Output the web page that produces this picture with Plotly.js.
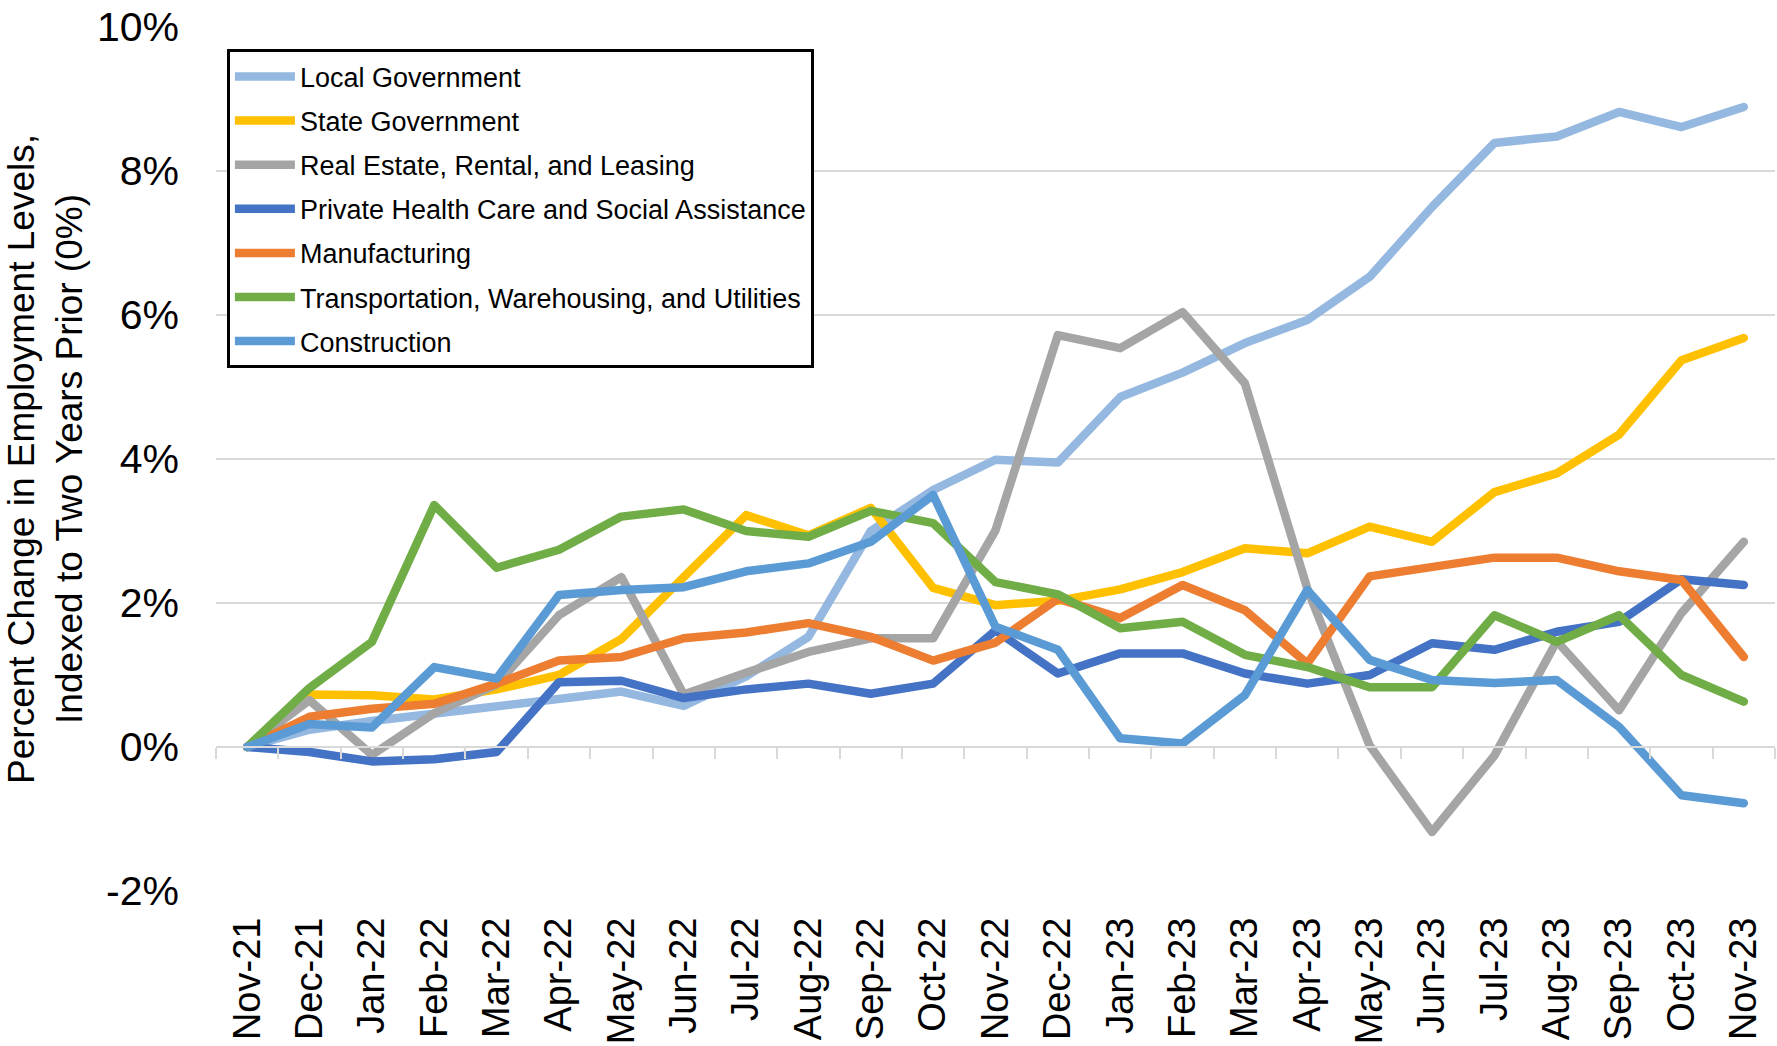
<!DOCTYPE html>
<html>
<head>
<meta charset="utf-8">
<script src="https://cdn.plot.ly/plotly-3.0.1.min.js"></script>
<style>
  html, body { margin: 0; padding: 0; background: #fff; }
  #chart { width: 1777px; height: 1046px; }
  .scatterlayer path.js-line { stroke-linejoin: round; stroke-linecap: round; }
</style>
</head>
<body>
<div id="chart"></div>
<script>
const months = ['Nov-21','Dec-21','Jan-22','Feb-22','Mar-22','Apr-22','May-22','Jun-22','Jul-22','Aug-22','Sep-22','Oct-22','Nov-22','Dec-22','Jan-23','Feb-23','Mar-23','Apr-23','May-23','Jun-23','Jul-23','Aug-23','Sep-23','Oct-23','Nov-23'];

const localGov      = [0, 0.24, 0.36, 0.46, 0.56, 0.66, 0.77, 0.57, 0.98, 1.53, 3.00, 3.57, 3.99, 3.95, 4.86, 5.20, 5.61, 5.93, 6.53, 7.50, 8.39, 8.48, 8.82, 8.61, 8.89];
const stateGov      = [0, 0.73, 0.72, 0.66, 0.80, 1.00, 1.50, 2.36, 3.22, 2.94, 3.32, 2.21, 1.97, 2.03, 2.19, 2.43, 2.76, 2.69, 3.06, 2.85, 3.54, 3.80, 4.34, 5.37, 5.68];
const realEstate    = [0, 0.65, -0.11, 0.47, 0.87, 1.83, 2.36, 0.73, 1.03, 1.32, 1.51, 1.51, 3.01, 5.72, 5.54, 6.04, 5.05, 2.20, 0.02, -1.18, -0.12, 1.47, 0.51, 1.86, 2.85];
const healthCare    = [0, -0.07, -0.20, -0.17, -0.07, 0.90, 0.92, 0.68, 0.80, 0.88, 0.74, 0.88, 1.62, 1.02, 1.30, 1.30, 1.02, 0.88, 1.00, 1.44, 1.35, 1.60, 1.74, 2.33, 2.25];
const manufacturing = [0, 0.42, 0.53, 0.60, 0.88, 1.20, 1.25, 1.51, 1.59, 1.72, 1.53, 1.20, 1.45, 2.06, 1.79, 2.25, 1.90, 1.16, 2.37, 2.50, 2.63, 2.63, 2.44, 2.32, 1.25];
const transport     = [0, 0.82, 1.46, 3.36, 2.49, 2.74, 3.20, 3.30, 3.00, 2.92, 3.28, 3.11, 2.29, 2.12, 1.65, 1.74, 1.28, 1.11, 0.83, 0.83, 1.83, 1.46, 1.83, 1.00, 0.63];
const construction  = [0, 0.32, 0.27, 1.11, 0.95, 2.11, 2.18, 2.22, 2.44, 2.55, 2.85, 3.50, 1.67, 1.35, 0.12, 0.05, 0.72, 2.18, 1.21, 0.93, 0.89, 0.93, 0.28, -0.67, -0.78];

const seriesNames = ['Local Government', 'State Government', 'Real Estate, Rental, and Leasing',
  'Private Health Care and Social Assistance', 'Manufacturing',
  'Transportation, Warehousing, and Utilities', 'Construction'];
const seriesValues = [localGov, stateGov, realEstate, healthCare, manufacturing, transport, construction];
const seriesColors = ['#95B8E0', '#FFC000', '#A5A5A5', '#4472C4', '#ED7D31', '#70AD47', '#5B9BD5'];
const yTicks = [-2, 0, 2, 4, 6, 8, 10];

const FONT = 'Liberation Sans, Arial, sans-serif';

const traces = seriesNames.map((name, i) => ({
  type: 'scatter',
  mode: 'lines',
  name: name,
  x: months,
  y: seriesValues[i],
  xaxis: i === 0 ? 'x' : 'x2',
  yaxis: 'y',
  legendgroup: 'g' + i,
  line: { color: seriesColors[i], width: 8.5 },
  hoverinfo: 'skip'
}));

const layout = {
  width: 1777,
  height: 1046,
  margin: { l: 216, r: 2, t: 27, b: 155 },
  paper_bgcolor: '#ffffff',
  plot_bgcolor: '#ffffff',
  font: { family: FONT, color: '#000000' },
  showlegend: true,
  legend: {
    x: 0.007, y: 0.974, xanchor: 'left', yanchor: 'top',
    bgcolor: '#ffffff', bordercolor: '#000000', borderwidth: 3,
    font: { family: FONT, size: 27, color: '#000000' },
    traceorder: 'grouped', tracegroupgap: 6,
    itemwidth: 60
  },
  xaxis: {
    type: 'category',
    categoryorder: 'array', categoryarray: months,
    range: [-0.5, months.length - 0.5],
    tickangle: -90,
    tickfont: { family: FONT, size: 38, color: '#000000' },
    ticks: '', showgrid: false, showline: false, zeroline: false,
    ticklabelstandoff: 18,
    automargin: false,
    fixedrange: true
  },
  xaxis2: {
    type: 'category',
    categoryorder: 'array', categoryarray: months,
    overlaying: 'x', matches: 'x',
    anchor: 'free', position: 2 / 12,
    range: [-0.5, months.length - 0.5],
    showticklabels: false,
    ticks: 'outside', ticklen: 11, tickwidth: 2, tickcolor: '#D9D9D9',
    tickson: 'boundaries',
    showline: true, linecolor: '#D9D9D9', linewidth: 2,
    showgrid: false, zeroline: false,
    automargin: false,
    fixedrange: true
  },
  yaxis: {
    range: [-2, 10],
    tickvals: yTicks,
    ticktext: yTicks.map(v => v + '%'),
    tickfont: { family: FONT, size: 41, color: '#000000' },
    ticks: '',
    ticklabelstandoff: 36,
    showgrid: true, gridcolor: '#D9D9D9', gridwidth: 2,
    zeroline: false, showline: false,
    automargin: true,
    title: {
      text: 'Percent Change in Employment Levels,<br>Indexed to Two Years Prior (0%)',
      font: { family: FONT, size: 37, color: '#000000' },
      standoff: 2
    },
    fixedrange: true
  }
};

Plotly.newPlot('chart', traces, layout, { displayModeBar: false, staticPlot: true });
</script>
</body>
</html>
